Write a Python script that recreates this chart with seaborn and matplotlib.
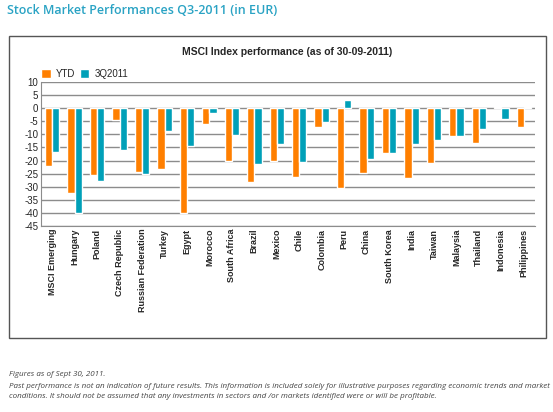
import matplotlib
matplotlib.use("Agg")
import matplotlib.pyplot as plt
import pandas as pd
import seaborn as sns
from matplotlib.patches import Rectangle

countries = ["MSCI Emerging", "Hungary", "Poland", "Czech Republic", "Russian Federation",
             "Turkey", "Egypt", "Morocco", "South Africa", "Brazil", "Mexico", "Chile",
             "Colombia", "Peru", "China", "South Korea", "India", "Taiwan", "Malaysia",
             "Thailand", "Indonesia", "Philippines"]
ytd = [-22.0, -32.3, -25.6, -4.5, -24.2, -23.3, -40.2, -6.0, -20.0, -28.3, -20.0, -26.4,
       -7.0, -30.3, -24.6, -17.3, -26.8, -20.8, -10.6, -13.2, 0.5, -7.0]
q3 = [-16.6, -40.2, -27.8, -16.0, -25.2, -8.9, -14.5, -1.9, -10.2, -21.3, -13.5, -20.4,
      -5.4, 3.0, -19.4, -17.3, -13.5, -12.0, -10.6, -7.9, -4.1, 0.4]
series_names = ["YTD", "3Q2011"]
yticks = list(range(10, -50, -5))

df = pd.DataFrame({
    "country": countries * 2,
    "value": ytd + q3,
    "series": [series_names[0]] * len(countries) + [series_names[1]] * len(countries),
})

sns.set_style("white")
plt.rcParams["font.family"] = ["Liberation Sans", "DejaVu Sans"]

fig = plt.figure(figsize=(5.53, 4.12), dpi=100)
ax = fig.add_axes([41 / 553, 1 - 226 / 412, (535 - 41) / 553, (226 - 82) / 412])

sns.barplot(data=df, x="country", y="value", hue="series", order=countries,
            hue_order=series_names, palette=["#FF7F00", "#00A0B8"], width=0.64,
            saturation=1, ax=ax, zorder=3)

ax.set_ylim(-45, 10)
ax.set_yticks(yticks)
ax.set_yticklabels([str(t) for t in yticks], fontsize=7)
ax.set_xlim(-0.5, len(countries) - 0.5)
ax.set_xticks(range(len(countries)))
ax.set_xticklabels(countries, rotation=90, fontsize=6.5, fontweight="bold")
ax.tick_params(axis="both", length=0, pad=2)
ax.set_xlabel("")
ax.set_ylabel("")
ax.yaxis.grid(True, color="#8c8c8c", linewidth=1.0, zorder=0)
ax.set_axisbelow(True)
for s in ["top", "right"]:
    ax.spines[s].set_visible(False)
ax.spines["left"].set_color("#8c8c8c")
ax.spines["bottom"].set_color("#8c8c8c")

ax.legend(loc="lower left", bbox_to_anchor=(-0.01, 0.99), ncol=2, frameon=False,
          fontsize=7, handlelength=1.0, handleheight=1.0, handletextpad=0.5,
          columnspacing=0.5, borderaxespad=0.1)

fig.patches.append(Rectangle((9 / 553, 1 - 338 / 412), (546 - 9) / 553, (338 - 36) / 412,
                             transform=fig.transFigure, fill=False,
                             edgecolor="#555555", linewidth=1.0))

fig.text(287 / 553, 1 - 52 / 412, "MSCI Index performance (as of 30-09-2011)",
         ha="center", va="center", fontsize=7.5, fontweight="bold")
fig.text(7 / 553, 1 - 10 / 412, "Stock Market Performances Q3-2011 (in EUR)",
         ha="left", va="center", fontsize=9, fontweight="semibold", color="#2AA3C4",
         family=["Open Sans", "DejaVu Sans"])

foot_kw = dict(ha="left", va="center", fontsize=5.8, style="italic", color="#444444",
               family=["Open Sans", "DejaVu Sans"])
fig.text(9 / 553, 1 - 374 / 412, "Figures as of Sept 30, 2011.", **foot_kw)
fig.text(9 / 553, 1 - 386 / 412,
         "Past performance is not an indication of future results. This information is included "
         "solely for illustrative purposes regarding economic trends and market", **foot_kw)
fig.text(9 / 553, 1 - 396 / 412,
         "conditions. It should not be assumed that any investments in sectors and /or markets "
         "identified were or will be profitable.", **foot_kw)

fig.savefig("out.png", dpi=100)
